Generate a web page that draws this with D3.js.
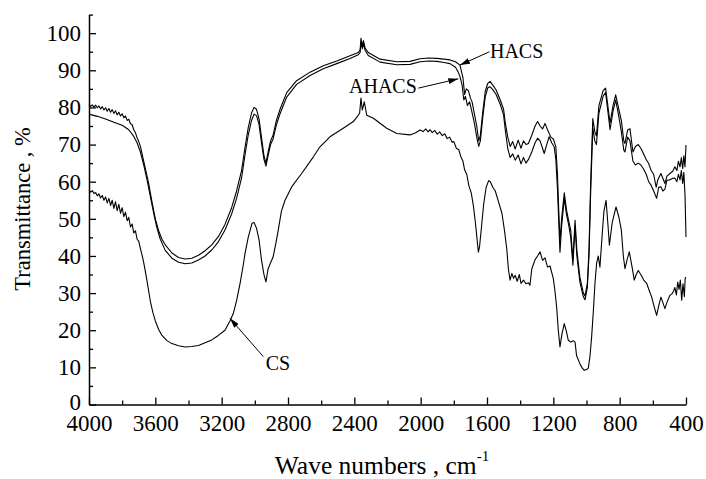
<!DOCTYPE html>
<html>
<head>
<meta charset="utf-8">
<script src="https://cdn.jsdelivr.net/npm/d3@7"></script>
<style>
  body { margin: 0; background: #fff; }
  svg { display: block; }
  svg text { font-family: "Liberation Serif", "Times New Roman", Tinos, "DejaVu Serif", serif; }
</style>
</head>
<body>
<svg width="706" height="479"></svg>
<script>
// [wave number cm-1, transmittance %]
const hacs = [
  [4000, 80.8], [3990, 80.3], [3980, 80.7], [3970, 80.1], [3960, 80.6], [3950, 79.9], [3940, 80.4],
  [3930, 79.6], [3920, 80.2], [3910, 79.3], [3900, 79.9], [3890, 79.0], [3880, 79.7], [3870, 78.7],
  [3860, 79.4], [3850, 78.4], [3840, 79.1], [3830, 78.0], [3820, 78.7], [3810, 77.7], [3800, 78.3],
  [3790, 77.2], [3780, 77.7], [3770, 76.5], [3760, 76.8], [3750, 75.6], [3740, 75.4], [3730, 74.0],
  [3720, 73.2], [3710, 71.8], [3700, 70.8], [3690, 69.5], [3680, 67.5], [3670, 65.5], [3660, 63.5],
  [3650, 61.5], [3640, 59.5], [3630, 57.0], [3620, 54.5], [3600, 50.0], [3580, 46.8], [3560, 44.5],
  [3540, 43.0], [3500, 40.8], [3460, 39.6], [3420, 39.2], [3380, 39.4], [3340, 40.2], [3300, 41.4],
  [3260, 43.0], [3220, 45.2], [3180, 48.5], [3140, 53.0], [3110, 57.5], [3080, 63.0], [3060, 69.0],
  [3040, 74.5], [3020, 78.5], [3005, 80.0], [2990, 79.5], [2975, 77.0], [2960, 72.0], [2945, 67.0],
  [2933, 65.0], [2920, 68.0], [2905, 71.0], [2890, 72.5], [2870, 76.5], [2848, 79.5], [2808, 84.0],
  [2748, 87.2], [2667, 89.5], [2587, 91.2], [2506, 92.5], [2426, 93.9], [2376, 94.8], [2365, 95.5],
  [2360, 98.6], [2352, 96.6], [2345, 98.0], [2335, 96.0], [2316, 94.8], [2245, 93.0], [2144, 92.3],
  [2064, 92.4], [2004, 93.1], [1950, 93.3], [1903, 93.2], [1860, 93.0], [1823, 92.8], [1790, 92.3],
  [1763, 91.4], [1745, 88.0], [1735, 83.5], [1725, 85.0], [1712, 84.5], [1700, 82.5], [1690, 81.5],
  [1675, 78.0], [1662, 75.0], [1650, 71.0], [1640, 72.5], [1625, 79.0], [1610, 84.5], [1595, 86.5],
  [1582, 87.0], [1565, 86.0], [1545, 84.7], [1520, 82.0], [1500, 79.5], [1490, 76.0], [1475, 72.0],
  [1460, 69.5], [1445, 70.8], [1430, 68.8], [1412, 71.2], [1395, 69.0], [1380, 71.0], [1365, 70.0],
  [1350, 70.3], [1330, 72.5], [1310, 75.0], [1295, 76.2], [1280, 75.0], [1265, 74.2], [1250, 75.7],
  [1235, 74.0], [1215, 72.0], [1200, 71.5], [1185, 69.5], [1175, 62.0], [1168, 53.0], [1160, 44.0],
  [1150, 50.0], [1134, 57.0], [1120, 52.3], [1108, 49.6], [1095, 46.9], [1082, 39.0], [1069, 49.6],
  [1058, 41.5], [1040, 34.3], [1019, 30.0], [1009, 29.2], [995, 32.6], [985, 41.5], [975, 59.5],
  [962, 77.0], [950, 73.5], [940, 72.3], [925, 80.5], [900, 84.5], [885, 85.2], [870, 80.0],
  [858, 75.8], [840, 80.5], [824, 83.4], [805, 79.5], [790, 76.5], [775, 71.0], [768, 70.3],
  [752, 73.9], [738, 74.3], [720, 68.0], [705, 69.5], [688, 70.0], [672, 69.0], [657, 67.6],
  [640, 66.0], [625, 64.9], [610, 63.0], [595, 62.0], [580, 58.5], [570, 60.5], [551, 62.2],
  [540, 61.0], [527, 59.5], [515, 61.5], [497, 62.2], [480, 62.8], [467, 64.0], [455, 63.0],
  [446, 65.5], [436, 64.0], [428, 66.5], [420, 63.5], [413, 67.0], [406, 64.0], [400, 69.9]
];

const ahacs = [
  [4000, 78.2], [3950, 77.6], [3900, 76.9], [3850, 76.0], [3800, 75.2], [3760, 74.0], [3730, 72.2],
  [3710, 70.5], [3690, 68.0], [3670, 64.5], [3650, 60.5], [3630, 56.0], [3610, 51.5], [3590, 47.5],
  [3570, 44.5], [3540, 41.5], [3500, 39.4], [3460, 38.3], [3420, 37.9], [3380, 38.1], [3340, 38.9],
  [3300, 40.0], [3260, 41.6], [3220, 43.8], [3180, 47.0], [3140, 51.3], [3110, 55.5], [3080, 61.0],
  [3060, 67.0], [3040, 72.5], [3020, 76.5], [3005, 78.2], [2990, 77.8], [2975, 75.5], [2960, 70.5],
  [2945, 66.0], [2933, 64.2], [2920, 67.0], [2905, 70.0], [2890, 71.5], [2870, 75.3], [2848, 78.3],
  [2808, 82.8], [2748, 86.2], [2667, 88.6], [2587, 90.4], [2506, 91.8], [2426, 93.2], [2376, 94.2],
  [2365, 94.8], [2360, 97.6], [2352, 95.8], [2345, 97.2], [2335, 95.4], [2316, 94.0], [2245, 92.2],
  [2144, 91.5], [2064, 91.6], [2004, 92.3], [1950, 92.5], [1903, 92.4], [1860, 92.1], [1823, 91.8],
  [1790, 90.8], [1773, 89.5], [1763, 88.3], [1750, 86.0], [1740, 82.0], [1730, 83.0], [1718, 80.5],
  [1705, 81.5], [1692, 79.0], [1675, 75.5], [1662, 72.0], [1650, 69.5], [1640, 71.0], [1625, 77.5],
  [1610, 83.0], [1595, 85.3], [1582, 85.6], [1565, 84.8], [1545, 83.5], [1520, 80.8], [1500, 78.0],
  [1490, 74.0], [1475, 69.0], [1460, 66.5], [1445, 67.5], [1430, 65.8], [1412, 67.2], [1395, 64.8],
  [1380, 66.5], [1365, 65.0], [1350, 66.0], [1330, 68.0], [1310, 70.5], [1295, 71.7], [1280, 71.0],
  [1265, 69.0], [1255, 67.6], [1240, 70.0], [1225, 72.1], [1210, 70.5], [1195, 69.4], [1185, 66.0],
  [1175, 58.0], [1168, 50.0], [1160, 41.0], [1150, 48.0], [1134, 55.5], [1120, 51.0], [1108, 48.5],
  [1095, 45.0], [1082, 37.5], [1069, 48.0], [1058, 40.0], [1040, 33.0], [1019, 29.0], [1009, 28.2],
  [995, 31.5], [985, 40.0], [975, 57.0], [962, 74.5], [950, 71.0], [940, 70.0], [925, 78.5],
  [900, 83.0], [885, 84.0], [870, 78.5], [858, 74.0], [840, 79.0], [824, 82.0], [805, 77.5],
  [790, 73.5], [775, 68.5], [768, 68.0], [752, 72.0], [738, 71.0], [720, 65.5], [705, 64.5],
  [688, 65.0], [672, 64.5], [657, 63.5], [640, 62.0], [625, 60.0], [610, 59.0], [595, 57.5],
  [577, 55.5], [565, 58.5], [551, 58.6], [540, 57.5], [527, 58.0], [515, 60.4], [497, 60.5],
  [480, 60.9], [467, 61.0], [455, 60.0], [446, 62.0], [436, 60.5], [428, 63.0], [420, 59.5],
  [413, 62.5], [406, 56.4], [400, 45.1]
];

const cs = [
  [4000, 57.7], [3990, 57.2], [3980, 57.6], [3970, 56.8], [3960, 57.1], [3950, 56.2], [3940, 56.7],
  [3930, 55.6], [3920, 56.3], [3910, 55.0], [3900, 55.9], [3890, 54.3], [3880, 55.5], [3870, 53.6],
  [3860, 55.0], [3850, 52.8], [3840, 54.6], [3830, 52.2], [3820, 53.9], [3810, 51.5], [3800, 53.0],
  [3790, 50.6], [3780, 51.8], [3770, 49.5], [3760, 50.4], [3750, 47.8], [3740, 48.6], [3730, 46.2],
  [3720, 46.8], [3710, 44.5], [3700, 44.0], [3690, 42.0], [3680, 40.2], [3670, 38.2], [3660, 35.8],
  [3650, 33.2], [3640, 30.5], [3630, 27.8], [3615, 24.8], [3600, 22.5], [3580, 20.2], [3560, 18.6],
  [3530, 17.2], [3500, 16.4], [3460, 15.8], [3420, 15.5], [3380, 15.6], [3340, 15.9], [3300, 16.6],
  [3260, 17.4], [3220, 18.6], [3180, 20.0], [3150, 22.5], [3130, 24.5], [3110, 28.0], [3089, 32.6],
  [3070, 37.5], [3059, 40.7], [3040, 45.0], [3017, 48.8], [3005, 49.0], [2990, 47.5], [2975, 44.5],
  [2960, 39.0], [2945, 35.0], [2933, 33.0], [2920, 36.5], [2905, 38.2], [2890, 39.7], [2875, 43.0],
  [2859, 46.9], [2840, 52.0], [2818, 55.0], [2778, 58.6], [2718, 62.2], [2647, 66.7], [2607, 69.4],
  [2547, 72.1], [2467, 74.4], [2406, 76.2], [2382, 77.5], [2368, 78.5], [2360, 82.5], [2352, 79.3],
  [2340, 81.5], [2325, 77.9], [2285, 77.1], [2205, 74.4], [2144, 73.0], [2064, 72.6], [2030, 73.2],
  [2004, 73.9], [1985, 73.5], [1970, 74.2], [1955, 73.4], [1944, 74.0], [1930, 73.2], [1915, 73.8],
  [1900, 72.8], [1885, 73.4], [1870, 72.4], [1855, 72.9], [1840, 71.6], [1825, 72.0], [1810, 70.6],
  [1800, 70.8], [1785, 69.0], [1770, 68.6], [1760, 67.0], [1745, 65.5], [1735, 63.2], [1722, 62.0],
  [1710, 59.0], [1695, 57.0], [1682, 53.5], [1670, 49.0], [1660, 44.5], [1652, 41.0], [1645, 42.5],
  [1635, 47.0], [1620, 54.0], [1605, 58.5], [1590, 60.3], [1580, 60.0], [1565, 58.5], [1550, 57.5],
  [1530, 54.5], [1510, 51.5], [1495, 47.0], [1481, 42.0], [1471, 36.5], [1461, 33.5], [1450, 35.3],
  [1440, 34.0], [1430, 34.8], [1418, 33.2], [1405, 35.0], [1395, 32.6], [1380, 33.5], [1365, 32.5],
  [1350, 32.8], [1341, 32.1], [1330, 36.5], [1310, 39.0], [1295, 40.0], [1280, 41.1], [1265, 38.8],
  [1250, 39.5], [1235, 37.0], [1220, 37.3], [1200, 33.9], [1190, 30.5], [1180, 26.2], [1170, 20.0],
  [1160, 15.5], [1148, 19.0], [1134, 21.8], [1120, 19.5], [1110, 17.3], [1095, 16.8], [1080, 17.2],
  [1069, 16.8], [1060, 13.2], [1040, 11.0], [1025, 9.8], [1013, 9.2], [999, 9.4], [989, 9.8],
  [979, 13.0], [969, 18.2], [959, 25.0], [949, 32.6], [939, 38.0], [929, 40.0], [919, 37.0],
  [905, 46.0], [895, 52.0], [882, 55.0], [870, 48.0], [862, 42.9], [845, 49.0], [822, 53.2],
  [805, 50.5], [790, 47.0], [778, 40.0], [768, 36.6], [755, 39.0], [742, 41.1], [725, 37.0],
  [712, 33.5], [700, 35.0], [688, 36.1], [670, 34.8], [655, 33.5], [637, 32.6], [620, 30.5],
  [607, 28.9], [590, 26.0], [577, 24.0], [565, 26.5], [551, 28.9], [540, 27.5], [527, 25.8],
  [515, 27.5], [497, 29.4], [485, 29.8], [475, 30.5], [467, 31.5], [458, 29.5], [450, 33.0],
  [442, 31.0], [434, 33.5], [426, 28.1], [418, 32.5], [410, 29.0], [405, 34.0], [400, 34.3]
];

const xMajor = [4000, 3600, 3200, 2800, 2400, 2000, 1600, 1200, 800, 400];
const xMinor = [3800, 3400, 3000, 2600, 2200, 1800, 1400, 1000, 600];
const yMajor = [0, 10, 20, 30, 40, 50, 60, 70, 80, 90, 100];
const yMinor = [5, 15, 25, 35, 45, 55, 65, 75, 85, 95, 105];

// labels with arrow: [text, label w, label T, arrow from w, T, arrow to w, T]
const notes = [
  ["HACS", 1582, 93.3, 1585, 95.0, 1763, 91.4],
  ["AHACS", 2432, 83.9, 2014, 85.2, 1773, 87.7],
  ["CS", 2934, 9.4, 2949, 12.9, 3150, 23.2]
];

const svg = d3.select("svg");
const margin = { left: 89, top: 14.6, right: 20, bottom: 74.5 };
const W = 706, H = 479;

const x = d3.scaleLinear().domain([4000, 400]).range([margin.left, 686]);
const y = d3.scaleLinear().domain([0, 105]).range([H - margin.bottom, margin.top]);

svg.append("defs").append("marker")
  .attr("id", "arr")
  .attr("viewBox", "0 0 10 6")
  .attr("refX", 10).attr("refY", 3)
  .attr("markerWidth", 10).attr("markerHeight", 6)
  .attr("markerUnits", "userSpaceOnUse")
  .attr("orient", "auto")
  .append("path").attr("d", "M0,0 L10,3 L0,6 Z").attr("fill", "#000");

const line = d3.line().x(d => x(d[0])).y(d => y(d[1]));

[hacs, ahacs, cs].forEach(s => {
  svg.append("path")
    .datum(s)
    .attr("d", line)
    .attr("fill", "none")
    .attr("stroke", "#000")
    .attr("stroke-width", 1.1)
    .attr("stroke-linejoin", "round");
});

// axes
const gx = svg.append("g").attr("transform", `translate(0,${y(0)})`);
gx.call(d3.axisBottom(x).tickValues(xMajor).tickSize(-7).tickSizeOuter(0).tickPadding(10).tickFormat(d3.format("d")));
gx.append("g").call(d3.axisBottom(x).tickValues(xMinor).tickSize(-4).tickFormat(""))
  .select(".domain").remove();

const gy = svg.append("g").attr("transform", `translate(${margin.left},0)`);
gy.call(d3.axisLeft(y).tickValues(yMajor).tickSize(-7).tickSizeOuter(0).tickPadding(8));
gy.append("g").call(d3.axisLeft(y).tickValues(yMinor).tickSize(-4).tickFormat(""))
  .select(".domain").remove();

svg.selectAll("g").attr("font-family", null);
svg.selectAll(".domain").attr("stroke-width", 1.5);
svg.selectAll(".tick line").attr("stroke-width", 1.3);
svg.selectAll(".tick text")
  .attr("font-size", 23)
  .attr("fill", "#000");
// lift the "0" a bit so it clears "4000"
gy.selectAll(".tick text").filter(d => d === 0).attr("dy", "0.2em");

// axis titles
svg.append("text")
  .attr("x", 382).attr("y", 474)
  .attr("text-anchor", "middle")
  .attr("font-size", 25.5)
  .text("Wave numbers , cm")
  .append("tspan")
  .attr("dy", -13).attr("font-size", 15)
  .text("-1");

svg.append("text")
  .attr("transform", "translate(30,209) rotate(-90)")
  .attr("text-anchor", "middle")
  .attr("font-size", 22.5)
  .text("Transmittance , %");

// annotations
notes.forEach(n => {
  svg.append("text")
    .attr("x", x(n[1])).attr("y", y(n[2]))
    .attr("font-size", 20)
    .text(n[0]);
  svg.append("line")
    .attr("x1", x(n[3])).attr("y1", y(n[4]))
    .attr("x2", x(n[5])).attr("y2", y(n[6]))
    .attr("stroke", "#000").attr("stroke-width", 1)
    .attr("marker-end", "url(#arr)");
});
</script>
</body>
</html>
